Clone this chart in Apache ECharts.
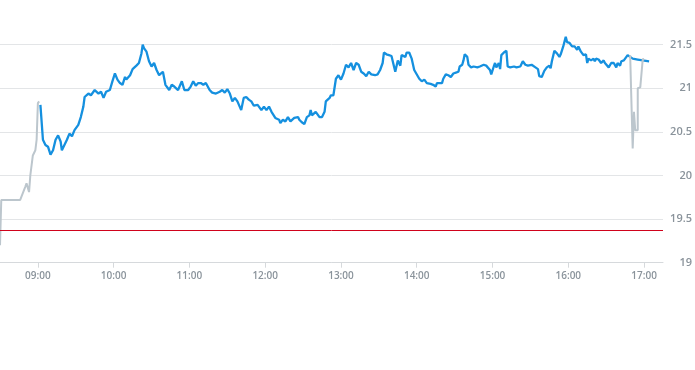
<!DOCTYPE html>
<html>
<head>
<meta charset="utf-8">
<script src="https://cdn.jsdelivr.net/npm/echarts@6/dist/echarts.min.js"></script>
<style>html,body{margin:0;padding:0;background:#fff;}#chart{width:695px;height:370px;}</style>
</head>
<body>
<div id="chart"></div>
<script>
// Pre-market (grey)
const preTimes = ["08:30","08:31","08:46","08:50","08:51","08:53","08:54","08:56","08:58","08:59","09:00","09:01"];
const preValues = [19.20,19.72,19.72,19.87,19.91,19.81,20.00,20.23,20.29,20.41,20.83,20.85];

// Regular session (blue)
const mainTimes = ["09:02","09:03","09:04","09:06","09:08","09:10","09:12","09:14","09:16","09:18","09:19","09:21","09:23","09:25","09:27","09:29","09:32","09:34","09:36","09:37","09:40","09:42","09:45","09:48","09:50","09:52","09:54","09:57","09:59","10:01","10:03","10:05","10:07","10:09","10:10","10:13","10:15","10:18","10:20","10:22","10:23","10:24","10:26","10:28","10:30","10:32","10:34","10:36","10:39","10:41","10:44","10:46","10:48","10:51","10:52","10:54","10:56","10:59","11:01","11:03","11:05","11:07","11:09","11:11","11:13","11:16","11:18","11:21","11:24","11:26","11:28","11:30","11:32","11:34","11:36","11:38","11:41","11:43","11:45","11:47","11:49","11:51","11:54","11:57","11:59","12:01","12:03","12:05","12:08","12:11","12:12","12:14","12:16","12:18","12:20","12:23","12:26","12:27","12:29","12:31","12:33","12:35","12:36","12:37","12:40","12:41","12:43","12:45","12:47","12:48","12:51","12:52","12:54","12:55","12:56","12:58","13:00","13:02","13:04","13:06","13:08","13:10","13:12","13:14","13:16","13:18","13:20","13:22","13:24","13:27","13:29","13:31","13:33","13:34","13:36","13:38","13:40","13:42","13:43","13:45","13:47","13:48","13:51","13:52","13:54","13:56","13:58","13:59","14:02","14:04","14:06","14:08","14:11","14:13","14:15","14:16","14:17","14:20","14:21","14:23","14:25","14:27","14:29","14:31","14:33","14:34","14:36","14:37","14:38","14:40","14:41","14:43","14:45","14:48","14:50","14:53","14:55","14:56","14:58","14:59","15:01","15:02","15:03","15:05","15:06","15:07","15:09","15:11","15:12","15:14","15:17","15:19","15:22","15:24","15:26","15:28","15:31","15:32","15:34","15:36","15:37","15:39","15:41","15:43","15:45","15:46","15:47","15:49","15:51","15:53","15:54","15:56","15:58","15:59","16:01","16:03","16:05","16:07","16:08","16:09","16:10","16:12","16:14","16:15","16:16","16:18","16:20","16:21","16:22","16:24","16:26","16:28","16:29","16:32","16:34","16:35","16:36","16:38","16:39","16:41","16:42","16:44","16:45","16:47","16:49","16:51","16:55","16:59","17:04"];
const mainValues = [20.81,20.79,20.41,20.35,20.33,20.24,20.29,20.41,20.46,20.39,20.29,20.35,20.41,20.48,20.45,20.52,20.58,20.67,20.79,20.90,20.94,20.92,20.98,20.94,20.96,20.89,20.96,20.98,21.08,21.17,21.10,21.06,21.04,21.13,21.10,21.15,21.22,21.26,21.29,21.40,21.50,21.46,21.42,21.31,21.25,21.29,21.21,21.15,21.19,21.04,20.98,21.04,21.02,20.98,20.98,21.08,20.98,20.98,21.02,21.08,21.03,21.06,21.06,21.04,21.06,20.98,20.95,20.94,20.96,20.98,20.95,20.99,20.94,20.85,20.89,20.85,20.75,20.89,20.90,20.87,20.85,20.80,20.81,20.75,20.79,20.75,20.79,20.73,20.66,20.64,20.60,20.64,20.62,20.67,20.62,20.66,20.67,20.64,20.61,20.59,20.67,20.69,20.75,20.69,20.73,20.73,20.67,20.67,20.73,20.85,20.89,20.92,20.92,20.94,21.11,21.15,21.10,21.17,21.27,21.24,21.29,21.21,21.29,21.27,21.19,21.17,21.14,21.19,21.16,21.15,21.16,21.21,21.29,21.41,21.39,21.38,21.37,21.25,21.19,21.32,21.26,21.38,21.36,21.41,21.41,21.34,21.21,21.19,21.11,21.08,21.10,21.06,21.05,21.04,21.02,21.06,21.06,21.06,21.11,21.16,21.15,21.13,21.17,21.18,21.19,21.25,21.27,21.32,21.39,21.36,21.27,21.24,21.25,21.24,21.25,21.27,21.26,21.28,21.21,21.16,21.25,21.29,21.24,21.29,21.22,21.38,21.41,21.43,21.25,21.24,21.25,21.24,21.25,21.31,21.27,21.26,21.27,21.27,21.24,21.22,21.14,21.13,21.20,21.24,21.26,21.23,21.31,21.43,21.40,21.36,21.39,21.48,21.59,21.53,21.52,21.48,21.48,21.44,21.48,21.50,21.42,21.38,21.39,21.29,21.34,21.32,21.34,21.31,21.34,21.33,21.29,21.32,21.29,21.24,21.29,21.31,21.29,21.24,21.29,21.26,21.31,21.32,21.31,21.38,21.36,21.34,21.33,21.32,21.31];

// After-hours (grey)
const postTimes = ["16:49","16:50","16:51","16:52","16:53","16:55","16:55","16:57","16:59","17:00"];
const postValues = [21.38,21.40,20.31,20.73,20.52,20.52,21.00,21.01,21.34,21.32];

const prevClose = 19.37;
const xTickLabels = ["09:00","10:00","11:00","12:00","13:00","14:00","15:00","16:00","17:00"];
const yTickLabels = ["19","19.5","20","20.5","21","21.5"];
const xRange = ["08:30","17:15"];

function toMin(s){ const p = s.split(":"); return (+p[0])*60 + (+p[1]); }
function fmt(m){ const h = Math.floor(m/60), mm = Math.round(m%60); return String(h).padStart(2,"0")+":"+String(mm).padStart(2,"0"); }
function pairs(t, v){ return t.map((s,i)=>[toMin(s), v[i]]); }

const labelColor = "#8a939b";
const chart = echarts.init(document.getElementById("chart"));
chart.setOption({
  animation: false,
  grid: { left: 0, right: 30, top: 44.7, height: 218, containLabel: false },
  xAxis: {
    type: "value",
    min: toMin(xRange[0]), max: toMin(xRange[1]),
    axisLine: { show: true, lineStyle: { color: "#d6d9dc", width: 1 } },
    axisTick: { show: true, length: 5, lineStyle: { color: "#d6d9dc" }, customValues: xTickLabels.map(toMin) },
    axisLabel: { customValues: xTickLabels.map(toMin), formatter: v => fmt(v), color: labelColor, fontSize: 10, fontWeight: 600, fontFamily: "Open Sans", margin: 8 },
    splitLine: { show: false }
  },
  yAxis: {
    type: "value", position: "right",
    min: +yTickLabels[0], max: +yTickLabels[yTickLabels.length-1], interval: 0.5,
    axisLine: { show: false }, axisTick: { show: false },
    axisLabel: { color: labelColor, fontSize: 11, fontWeight: 600, fontFamily: "Open Sans", align: "right", margin: 29 },
    splitLine: { lineStyle: { color: "#e3e5e7", width: 1 } }
  },
  series: [
    {
      type: "line", data: pairs(mainTimes, mainValues), showSymbol: false, symbol: "none", clip: false,
      lineStyle: { color: "#1590df", width: 2.3 }, z: 3,
      markLine: { silent: true, symbol: ["none","none"], label: { show: false },
        lineStyle: { color: "#d0021b", width: 1, type: "solid" }, data: [{ yAxis: prevClose }] }
    },
    { type: "line", data: pairs(preTimes, preValues), symbol: "none", clip: false, lineStyle: { color: "#bcc6cd", width: 2 }, z: 4 },
    { type: "line", data: pairs(postTimes, postValues), symbol: "none", clip: false, lineStyle: { color: "#bcc6cd", width: 2 }, z: 4 }
  ]
});
</script>
</body>
</html>
